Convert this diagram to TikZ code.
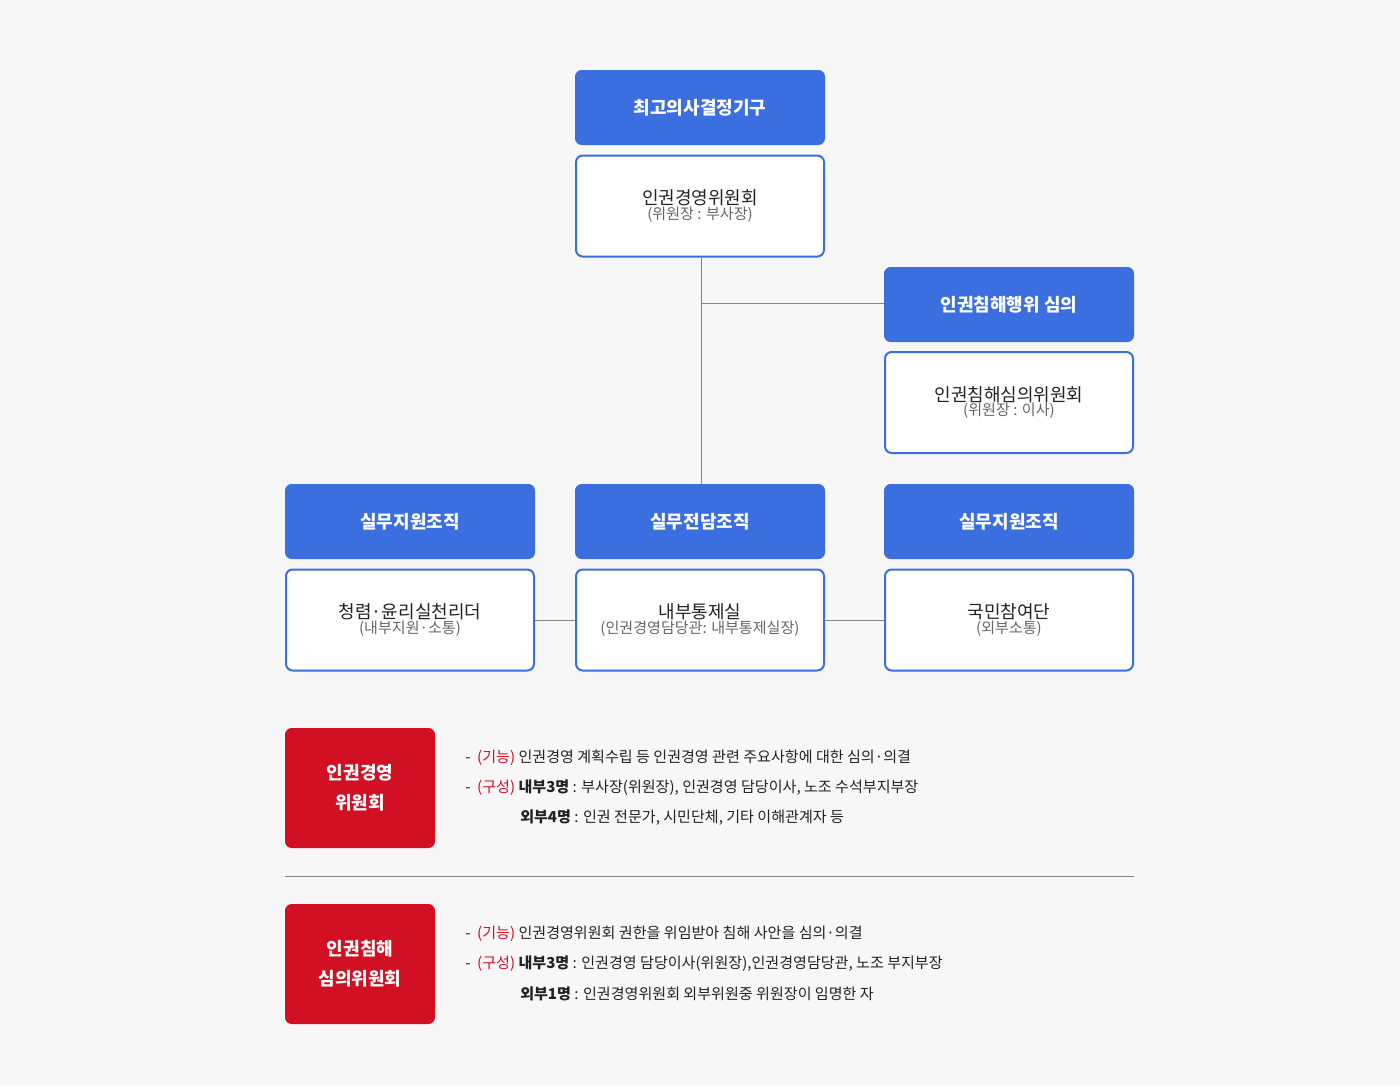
\documentclass[tikz,border=0pt]{standalone}
\usepackage{fontspec}
\setmainfont{Noto Sans CJK KR}
\newfontfamily\krb{Noto Sans CJK KR Bold}
\definecolor{bg}{HTML}{F7F7F7}
\definecolor{bl}{HTML}{3B6EDE}
\definecolor{rd}{HTML}{D21024}
\definecolor{gr}{HTML}{666666}
\definecolor{tx}{HTML}{222222}
\tikzset{
 hd/.style={fill=bl,rounded corners=5,minimum width=250*0.75pt,minimum height=75*0.75pt,text=white,font=\fontsize{13.5}{16}\bfseries,inner sep=0},
 wb/.style={draw=bl,line width=1.5pt,fill=white,rounded corners=5,minimum width=248*0.75pt,minimum height=101*0.75pt,align=center,inner sep=0,text=tx},
 rb/.style={fill=rd,rounded corners=5,minimum width=150*0.75pt,minimum height=120*0.75pt,text=white,align=center,font=\fontsize{13.5}{22.5}\bfseries,inner sep=0},
 ln/.style={draw=gr!80,line width=0.6pt},
 it/.style={anchor=west,font=\fontsize{11.3}{14}\selectfont,text=tx,inner sep=0}
}
\newcommand{\sub}[1]{\\[-1pt]{\fontsize{11.3}{14}\selectfont\color{gr}#1}}
\newcommand{\ttl}[1]{{\fontsize{13.5}{17}\selectfont #1}}
\begin{document}
\begin{tikzpicture}[x=0.75pt,y=-0.75pt]
\fill[bg] (0,0) rectangle (1400,1086);
\node[hd] (h1) at (700,107.5) {최고의사결정기구};
\node[wb] (w1) at (700,206) {\ttl{인권경영위원회}\sub{(위원장 : 부사장)}};
\node[hd] (h2) at (1009,304.5) {인권침해행위 심의};
\node[wb] (w2) at (1009,402.5) {\ttl{인권침해심의위원회}\sub{(위원장 : 이사)}};
\node[hd] (h3) at (410,521.5) {실무지원조직};
\node[hd] (h4) at (700,521.5) {실무전담조직};
\node[hd] (h5) at (1009,521.5) {실무지원조직};
\node[wb] (w3) at (410,620) {\ttl{청렴·윤리실천리더}\sub{(내부지원·소통)}};
\node[wb] (w4) at (700,620) {\ttl{내부통제실}\sub{(인권경영담당관: 내부통제실장)}};
\node[wb] (w5) at (1009,620) {\ttl{국민참여단}\sub{(외부소통)}};
\coordinate (j) at (701,303);
\draw[ln] (w1.south -| j) -- (h4.north -| j);
\draw[ln] (j) -- (h2.west |- j);
\draw[ln] (w3.east) -- (w4.west);
\draw[ln] (w4.east) -- (w5.west);
\node[rb] (r1) at (360,788) {인권경영\\위원회};
\node[rb] (r2) at (360,964) {인권침해\\심의위원회};
\draw[ln] (285,876) -- (1134,876);
\node[it] (t1) at (465,758) {-\ \ {\color{rd}(기능)} 인권경영 계획수립 등 인권경영 관련 주요사항에 대한 심의·의결};
\node[it] (t2) at (465,788) {-\ \ {\color{rd}(구성)} \textbf{내부3명} : 부사장(위원장), 인권경영 담당이사, 노조 수석부지부장};
\node[it] (t3) at (520,818) {\textbf{외부4명} : 인권 전문가, 시민단체, 기타 이해관계자 등};
\node[it] (t4) at (465,934) {-\ \ {\color{rd}(기능)} 인권경영위원회 권한을 위임받아 침해 사안을 심의·의결};
\node[it] (t5) at (465,964) {-\ \ {\color{rd}(구성)} \textbf{내부3명} : 인권경영 담당이사(위원장),인권경영담당관, 노조 부지부장};
\node[it] (t6) at (520,994) {\textbf{외부1명} : 인권경영위원회 외부위원중 위원장이 임명한 자};
\end{tikzpicture}
\end{document}
